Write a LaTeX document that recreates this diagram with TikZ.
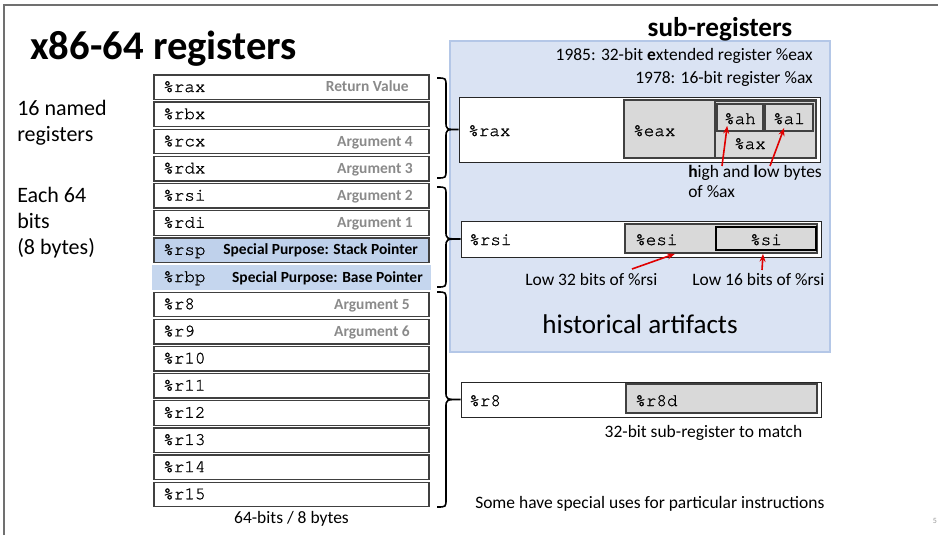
\documentclass[tikz,border=0pt]{standalone}
\usepackage{fontspec}
\setmainfont{Carlito}
\newfontfamily\monofont[FakeBold=1.0]{TeX Gyre Cursor}
\usetikzlibrary{arrows.meta,fit,calc}

\definecolor{boxline}{HTML}{404040}
\definecolor{panelfill}{HTML}{DAE3F3}
\definecolor{paneledge}{HTML}{B4C7E7}
\definecolor{spfill}{HTML}{BFD1EB}
\definecolor{bpfill}{HTML}{C5D6EE}
\definecolor{subgrey}{HTML}{D9D9D9}
\definecolor{labgrey}{HTML}{8A8A8A}
\definecolor{arrowred}{HTML}{E00000}
\definecolor{framegrey}{HTML}{707070}

\tikzset{
  regcell/.style={draw=boxline, line width=1pt, fill=white, inner sep=0pt},
  regname/.style={anchor=base west, inner sep=0pt, font=\monofont\fontsize{13.2}{15}\selectfont},
  rolelab/.style={anchor=base east, inner sep=0pt, text=labgrey, font=\bfseries\fontsize{11.6}{14}\selectfont},
  spclab/.style={rolelab, text=black},
  note/.style={inner sep=0pt, font=\fontsize{13.1}{16}\selectfont},
  sidenote/.style={inner sep=0pt, anchor=base west, font=\fontsize{16.5}{19}\selectfont},
  bigbox/.style={draw=black!85, line width=0.7pt, fill=white, inner sep=0pt},
  subbox/.style={draw=boxline, line width=1.2pt, fill=subgrey, inner sep=0pt},
  bytebox/.style={draw=black!75, line width=1.2pt, fill=subgrey, inner sep=0pt},
  redarrow/.style={draw=arrowred, line width=1.2pt, -{Stealth[length=6pt,width=4.5pt]}},
  bracepen/.style={line width=1.2pt, draw=black}
}

% curly brace from y=#1 to y=#2 whose tip touches the west side of node #3
\newcommand\regbrace[3]{%
  \draw[bracepen] (437,#1) .. controls (446,#1) .. (446,#1+8)
    -- ($(bx |- #3.west)+(0,-8)$) .. controls (bx |- #3.west) .. (#3.west)
    .. controls (bx |- #3.west) .. ($(bx |- #3.west)+(0,8)$)
    -- (446,#2-8) .. controls (446,#2) .. (437,#2);}

\begin{document}
\begin{tikzpicture}[x=0.75pt,y=-0.75pt]
\useasboundingbox (0,0) rectangle (938,535);

% slide frame
\draw[framegrey, line width=1.2pt] (4,535) -- (4,5) -- (938,5);

% titles and side notes
\node[inner sep=0pt, anchor=base west, font=\bfseries\fontsize{30.5}{34}\selectfont] (title) at (30,60) {x86-64 registers};
\node[sidenote] (named1) at (17,115) {16 named};
\node[sidenote] (named2) at (17,141) {registers};
\node[sidenote] (bits1) at (17,202) {Each 64};
\node[sidenote] (bits2) at (17,228) {bits};
\node[sidenote] (bits3) at (17,254) {(8 bytes)};

% register file
\foreach \i/\nm/\lab/\lx in {0/rax/Return Value/409, 1/rbx//413, 2/rcx/Argument 4/413,
    3/rdx/Argument 3/413, 4/rsi/Argument 2/413, 5/rdi/Argument 1/413,
    8/r8/Argument 5/410, 9/r9/Argument 6/410, 10/r10//410, 11/r11//410,
    12/r12//410, 13/r13//410, 14/r14//410, 15/r15//410} {
  \pgfmathsetmacro\ytop{75+27.15*\i}
  \pgfmathsetmacro\ybot{\ytop+24.5}
  \node[regcell, fit={(154,\ytop)(429,\ybot)}] (\nm) {};
  \node[regname] (\nm-name) at (163,\ytop+17) {\%\nm};
  \node[rolelab] (\nm-role) at (\lx,\ytop+17) {\lab};
}
% special purpose registers
\node[regcell, fill=spfill, fit={(154,237.9)(429,262.4)}] (rsp) {};
\node[regname] (rsp-name) at (163,254.9) {\%rsp};
\node[spclab] (rsp-role) at (418,254.9) {Special Purpose: Stack Pointer};
\node[inner sep=0pt, fill=bpfill, fit={(152,265)(431,289.5)}] (rbp) {};
\node[regname] (rbp-name) at (163,282) {\%rbp};
\node[spclab] (rbp-role) at (423,282) {Special Purpose: Base Pointer};

\node[note, anchor=base] (width) at (291.5,523.5) {64-bits / 8 bytes};

% sub-register panel
\node[inner sep=0pt, fill=panelfill, draw=paneledge, line width=1.5pt, fit={(450,41)(830,352)}] (panel) {};
\node[inner sep=0pt, anchor=base, font=\bfseries\fontsize{20.4}{24}\selectfont] (subtitle) at (720,37) {sub-registers};
\node[note, anchor=base east] (y1985) at (813,60.5) {1985: 32-bit {\bfseries e}xtended register \%eax};
\node[note, anchor=base east] (y1978) at (813,84) {1978: 16-bit register \%ax};

% %rax and its parts
\node[bigbox, fit={(459,97)(820,162)}] (raxbig) {};
\node[subbox, fit={(624,100)(816,158)}] (eax) {};
\node[subbox, fit={(715,101.5)(816,158)}] (ax) {};
\node[bytebox, fit={(717,104)(763,131)}] (ah) {};
\node[bytebox, fit={(765,104)(813,131)}] (al) {};
\node[regname] (raxbig-name) at (468,136) {\%rax};
\node[regname] (eax-name) at (633,136) {\%eax};
\node[regname, anchor=base] (ax-name) at (750,149) {\%ax};
\node[regname, anchor=base] (ah-name) at (740,124) {\%ah};
\node[regname, anchor=base] (al-name) at (789,124) {\%al};
\node[note, anchor=base west] (hilo1) at (688,177) {{\bfseries h}igh and {\bfseries l}ow bytes};
\node[note, anchor=base west] (hilo2) at (688,197) {of \%ax};
\coordinate (hiA) at (722,166);
\coordinate (loA) at (770,166);
\draw[redarrow] (hiA) -- ($(ah.south west)+(11,-6)$);
\draw[redarrow] (loA) -- ($(al.south west)+(20,-4)$);

% %rsi and its parts
\node[bigbox, fit={(461,221)(821,257)}] (rsibig) {};
\node[subbox, fit={(625,224)(817,253)}] (esi) {};
\node[bytebox, draw=black, fit={(716,227)(816,250)}] (si) {};
\node[regname] (rsibig-name) at (469,245) {\%rsi};
\node[regname] (esi-name) at (635,245) {\%esi};
\node[regname, anchor=base] (si-name) at (766,245) {\%si};
\node[note, anchor=base west] (low32) at (525,285) {Low 32 bits of \%rsi};
\node[note, anchor=base west] (low16) at (692,285) {Low 16 bits of \%rsi};
\coordinate (l32A) at (632,269);
\coordinate (l16A) at (762,270);
\draw[redarrow] (l32A) -- ($(esi.south)+(-46,0)$);
\draw[redarrow] (l16A) -- ($(esi.south)+(42,0)$);

\node[inner sep=0pt, anchor=base, font=\fontsize{20.3}{24}\selectfont] (hist) at (640,333) {historical artifacts};

% %r8 and its low half
\node[bigbox, fit={(461,382)(821,417)}] (r8big) {};
\node[subbox, fit={(626,384)(817,413)}] (r8d) {};
\node[regname] (r8big-name) at (469,406) {\%r8};
\node[regname] (r8d-name) at (635,406) {\%r8d};
\node[note, anchor=base] (match) at (703.5,437) {32-bit sub-register to match};
\node[note, anchor=base west] (special) at (475,508) {Some have special uses for particular instructions};

% braces grouping the registers
\coordinate (bx) at (446,0);
\regbrace{78}{178}{raxbig}
\regbrace{187}{287}{rsibig}
\regbrace{292}{507}{r8big}

\node[inner sep=0pt, text=black!40, font=\fontsize{6}{7}\selectfont] (slideno) at (935,521) {5};
\end{tikzpicture}
\end{document}
